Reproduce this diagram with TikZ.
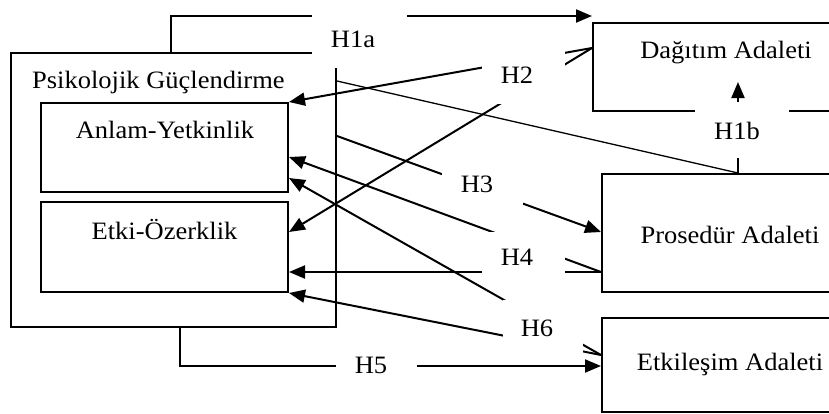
\documentclass[tikz,border=0pt]{standalone}
\usepackage{fontspec}
\setmainfont{Liberation Serif}[FakeStretch=1.06]
\usetikzlibrary{arrows.meta}
\begin{document}
\begin{tikzpicture}[x=1pt,y=-1pt, font=\fontsize{25}{29}\selectfont,
  box/.style={draw, line width=2pt, inner sep=0pt},
  conn/.style={line width=2pt, -{Triangle[length=16pt,width=13pt]}},
  thinline/.style={line width=1.3pt},
  cover/.style={fill=white},
  txt/.style={anchor=base, inner sep=0pt}]
\useasboundingbox (0,0) rectangle (829,413);
\clip (0,0) rectangle (829,413);
% boxes
\node[box, minimum width=325pt, minimum height=274pt] (pg) at (173.5,190) {};
\node[box, minimum width=247pt, minimum height=89pt] (anlam) at (164.5,147.5) {};
\node[box, minimum width=247pt, minimum height=90pt] (etki) at (164.5,247) {};
\node[box, minimum width=277pt, minimum height=88pt] (dag) at (731.5,67) {};
\node[box, minimum width=268pt, minimum height=118pt] (pros) at (736,233) {};
\node[box, minimum width=268pt, minimum height=94pt] (etk) at (736,365) {};
% connectors
\draw[conn] (pg.north -| 171,0) -- (171,16) -- (dag.west |- 0,16);
\draw[conn] (pros.north -| 738,0) -- (738,82);
\draw[thinline] (pg.east |- 0,81) -- (pros.north -| 738,0);
\draw[conn] (dag.west |- 0,48) -- (anlam.north east);
\draw[conn] (dag.west |- 0,48) -- (etki.east |- 0,232);
\draw[conn] (pg.east |- 0,136) -- (pros.west |- 0,232);
\draw[conn] (pros.west |- 0,272) -- (anlam.east |- 0,157);
\draw[conn] (pros.west |- 0,272) -- (etki.east |- 0,272);
\draw[conn] (etk.west |- 0,355) -- (anlam.east |- 0,178);
\draw[conn] (etk.west |- 0,355) -- (etki.south east);
\draw[conn] (pg.south -| 180,0) -- (180,366) -- (etk.west |- 0,366);
% white label covers
\fill[cover] (312,4) rectangle (407,68);
\fill[cover] (482,45) rectangle (565,104);
\fill[cover] (442,160) rectangle (523,212);
\fill[cover] (482,232) rectangle (565,284);
\fill[cover] (503,300) rectangle (583,358);
\fill[cover] (336,345) rectangle (417,390);
\fill[cover] (695,102) rectangle (789,158);
% texts
\node[anchor=base west, inner sep=0pt] (tpg) at (32,88) {Psikolojik Güçlendirme};
\node[txt] (tanlam) at (165,138) {Anlam-Yetkinlik};
\node[txt] (tetki) at (164.5,239) {Etki-Özerklik};
\node[txt] (tdag) at (726,58) {Dağıtım Adaleti};
\node[txt] (tpros) at (730,243) {Prosedür Adaleti};
\node[txt] (tetk) at (730,370) {Etkileşim Adaleti};
\node[txt] (h1a) at (353,47) {H1a};
\node[txt] (h1b) at (737,139) {H1b};
\node[txt] (h2) at (517,83) {H2};
\node[txt] (h3) at (477,192) {H3};
\node[txt] (h4) at (517,265) {H4};
\node[txt] (h5) at (371,373) {H5};
\node[txt] (h6) at (537,336) {H6};
\end{tikzpicture}
\end{document}
